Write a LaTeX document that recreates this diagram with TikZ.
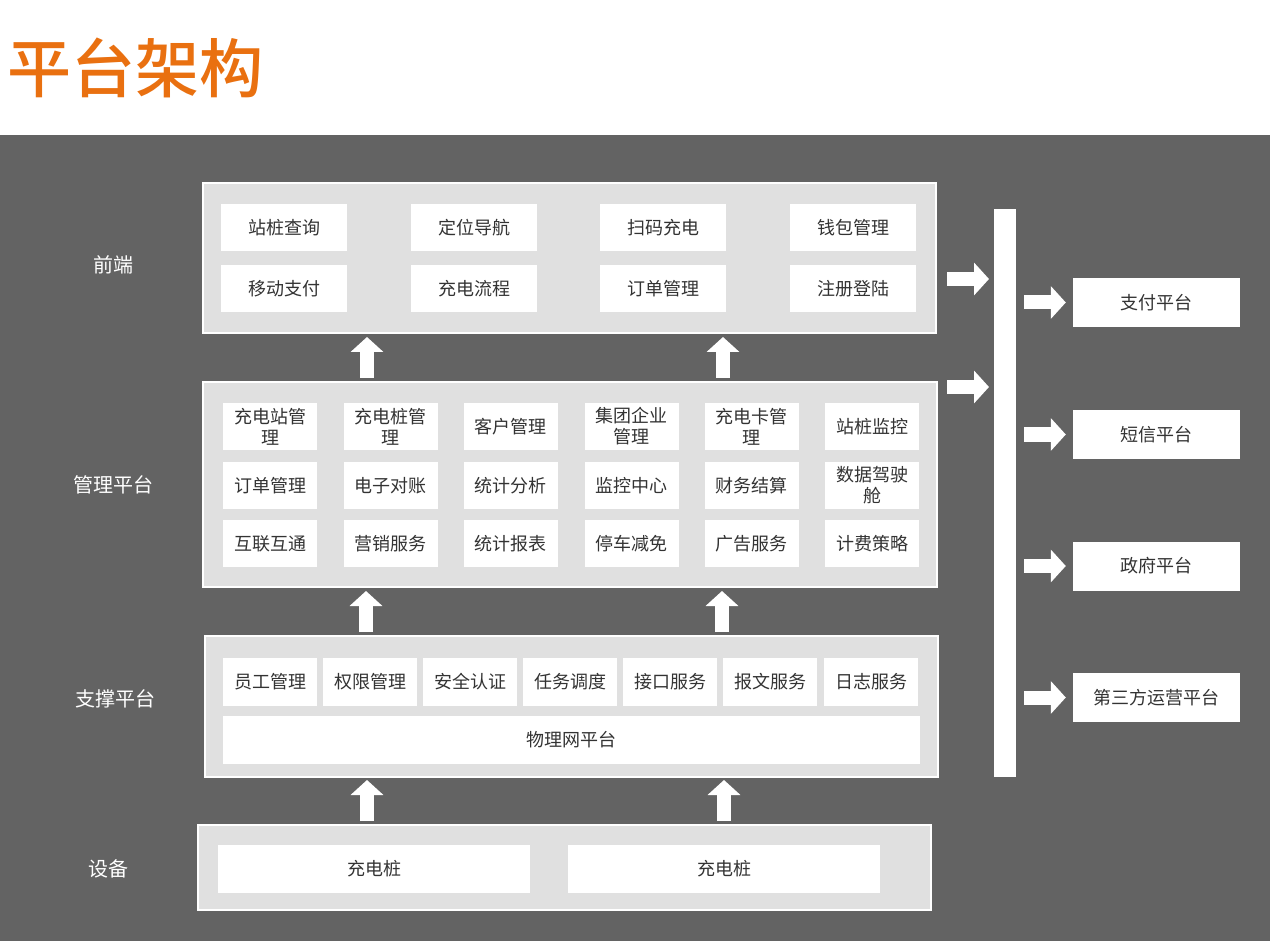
\documentclass[tikz,border=0pt]{standalone}
\usepackage{fontspec}
\newfontfamily\cjk{Noto Sans CJK SC}
\newfontfamily\cjkmid{Noto Sans CJK SC Medium}
\usetikzlibrary{arrows.meta}
\definecolor{bggray}{RGB}{99,99,99}
\definecolor{panelgray}{RGB}{224,224,224}
\definecolor{txtgray}{RGB}{51,51,51}
\definecolor{titleorange}{RGB}{233,112,16}

\begin{document}
\begin{tikzpicture}[x=1pt,y=-1pt,
  panel/.style={draw=white,line width=2pt,fill=panelgray,inner sep=0pt},
  cell/.style={fill=white,inner sep=0pt,minimum height=47pt,text=txtgray,align=center,
    font=\cjk\fontsize{18}{21}\selectfont},
  widecell/.style={cell,minimum width=126pt},
  smallcell/.style={cell,minimum width=94pt},
  sidelabel/.style={text=white,font=\cjk\fontsize{20}{24}\selectfont},
  bigarrow/.style={white,line width=14pt,-{Triangle[width=32pt,length=15pt]}}]
  \useasboundingbox (0,0) rectangle (1270,941);
  \fill[white] (0,0) rectangle (1270,135);
  \fill[bggray] (0,135) rectangle (1270,941);
  \node (title) at (136,68) [text=titleorange,font=\cjkmid\fontsize{64}{70}\selectfont] {平台架构};

  % layers
  \node (front) at (569.5,258) [panel,minimum width=733pt,minimum height=150pt] {};
  \node (mgmt) at (570,484.5) [panel,minimum width=734pt,minimum height=205pt] {};
  \node (supp) at (571.5,706.5) [panel,minimum width=733pt,minimum height=141pt] {};
  \node (dev) at (564.5,867.5) [panel,minimum width=733pt,minimum height=85pt] {};
  \node (bar) at (1005,493) [fill=white,inner sep=0pt,minimum width=22pt,minimum height=568pt] {};

  \node (lfront) at (113,265) [sidelabel] {前端};
  \node (lmgmt) at (113,485) [sidelabel] {管理平台};
  \node (lsupp) at (115,699) [sidelabel] {支撑平台};
  \node (ldev) at (108,869) [sidelabel] {设备};

  % front end
  \node (f1) at (284,228) [widecell] {站桩查询};
  \node (f2) at (474,228) [widecell] {定位导航};
  \node (f3) at (663,228) [widecell] {扫码充电};
  \node (f4) at (853,228) [widecell] {钱包管理};
  \node (f5) at (284,289) [widecell] {移动支付};
  \node (f6) at (474,289) [widecell] {充电流程};
  \node (f7) at (663,289) [widecell] {订单管理};
  \node (f8) at (853,289) [widecell] {注册登陆};

  % management platform
  \node (m1) at (270,426.5) [smallcell] {充电站管\\理};
  \node (m2) at (390.5,426.5) [smallcell] {充电桩管\\理};
  \node (m3) at (510.5,426.5) [smallcell] {客户管理};
  \node (m4) at (631.5,426.5) [smallcell] {集团企业\\管理};
  \node (m5) at (751.5,426.5) [smallcell] {充电卡管\\理};
  \node (m6) at (872,426.5) [smallcell] {站桩监控};
  \node (m7) at (270,485.5) [smallcell] {订单管理};
  \node (m8) at (390.5,485.5) [smallcell] {电子对账};
  \node (m9) at (510.5,485.5) [smallcell] {统计分析};
  \node (m10) at (631.5,485.5) [smallcell] {监控中心};
  \node (m11) at (751.5,485.5) [smallcell] {财务结算};
  \node (m12) at (872,485.5) [smallcell] {数据驾驶\\舱};
  \node (m13) at (270,543.5) [smallcell] {互联互通};
  \node (m14) at (390.5,543.5) [smallcell] {营销服务};
  \node (m15) at (510.5,543.5) [smallcell] {统计报表};
  \node (m16) at (631.5,543.5) [smallcell] {停车减免};
  \node (m17) at (751.5,543.5) [smallcell] {广告服务};
  \node (m18) at (872,543.5) [smallcell] {计费策略};

  % support platform
  \node (s1) at (270,682) [smallcell,minimum height=48pt] {员工管理};
  \node (s2) at (370,682) [smallcell,minimum height=48pt] {权限管理};
  \node (s3) at (470,682) [smallcell,minimum height=48pt] {安全认证};
  \node (s4) at (570,682) [smallcell,minimum height=48pt] {任务调度};
  \node (s5) at (670,682) [smallcell,minimum height=48pt] {接口服务};
  \node (s6) at (770,682) [smallcell,minimum height=48pt] {报文服务};
  \node (s7) at (871,682) [smallcell,minimum height=48pt] {日志服务};
  \node (s8) at (571.5,740) [cell,minimum width=697pt,minimum height=48pt] {物理网平台};

  % devices
  \node (d1) at (374,869) [cell,minimum width=312pt,minimum height=48pt] {充电桩};
  \node (d2) at (724,869) [cell,minimum width=312pt,minimum height=48pt] {充电桩};

  % outside platforms
  \node (p1) at (1156.5,302.5) [cell,minimum width=167pt,minimum height=49pt] {支付平台};
  \node (p2) at (1156.5,434.5) [cell,minimum width=167pt,minimum height=49pt] {短信平台};
  \node (p3) at (1156.5,566) [cell,minimum width=167pt,minimum height=49pt] {政府平台};
  \node (p4) at (1156.5,697.5) [cell,minimum width=167pt,minimum height=49pt] {第三方运营平台};

  % arrow ends
  \coordinate (u1a) at (367,378); \coordinate (u1b) at (367,337);
  \coordinate (u2a) at (723,378); \coordinate (u2b) at (723,337);
  \coordinate (u3a) at (366,632); \coordinate (u3b) at (366,591);
  \coordinate (u4a) at (722,632); \coordinate (u4b) at (722,591);
  \coordinate (u5a) at (367,821); \coordinate (u5b) at (367,780);
  \coordinate (u6a) at (724,821); \coordinate (u6b) at (724,780);
  \coordinate (r1a) at (947,279); \coordinate (r1b) at (989,279);
  \coordinate (r2a) at (947,387); \coordinate (r2b) at (989,387);

  \draw[bigarrow] (u1a) -- (u1b);
  \draw[bigarrow] (u2a) -- (u2b);
  \draw[bigarrow] (u3a) -- (u3b);
  \draw[bigarrow] (u4a) -- (u4b);
  \draw[bigarrow] (u5a) -- (u5b);
  \draw[bigarrow] (u6a) -- (u6b);
  \draw[bigarrow] (r1a) -- (r1b);
  \draw[bigarrow] (r2a) -- (r2b);
  \draw[bigarrow] ([xshift=8pt]bar.east |- p1.west) -- ([xshift=-7pt]p1.west);
  \draw[bigarrow] ([xshift=8pt]bar.east |- p2.west) -- ([xshift=-7pt]p2.west);
  \draw[bigarrow] ([xshift=8pt]bar.east |- p3.west) -- ([xshift=-7pt]p3.west);
  \draw[bigarrow] ([xshift=8pt]bar.east |- p4.west) -- ([xshift=-7pt]p4.west);
\end{tikzpicture}
\end{document}
